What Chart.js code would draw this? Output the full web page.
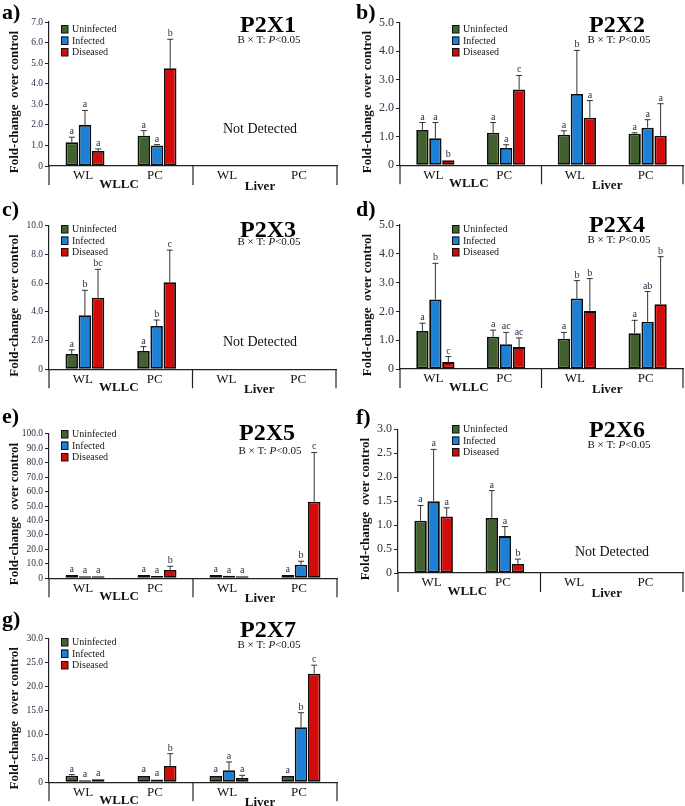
<!DOCTYPE html>
<html><head><meta charset="utf-8">
<script src="https://cdn.jsdelivr.net/npm/chart.js@4.4.1/dist/chart.umd.min.js"></script>
<style>
html,body{margin:0;padding:0;background:#fff;}
#wrap{position:relative;width:685px;height:806px;overflow:hidden;background:#fff;}
#wrap canvas{position:absolute;left:0;top:0;}
</style></head><body><div id="wrap"></div>
<script>
// ---------- DATA ----------
const groupLabels = ['WL', 'PC', 'WL', 'PC'];
const tissueLabels = ['WLLC', 'Liver'];
const seriesNames = ['Uninfected', 'Infected', 'Diseased'];
const panelLetters = ['a)', 'b)', 'c)', 'd)', 'e)', 'f)', 'g)'];
const geneNames = ['P2X1', 'P2X2', 'P2X3', 'P2X4', 'P2X5', 'P2X6', 'P2X7'];
const yMaxes = [7, 5, 10, 5, 100, 3, 30];
const yStepSizes = [1, 1, 2, 1, 10, 0.5, 5];
const liverDetected = [false, true, false, true, true, false, true];
const notDetectedText = 'Not Detected';

// means [Uninfected, Infected, Diseased] per group (WLLC WL, WLLC PC, Liver WL, Liver PC)
const p2x1Mean = [[1.15, 1.47, null, null], [2.0, 1.0, null, null], [0.73, 4.75, null, null]];
const p2x1ErrHi = [[1.4, 1.72, null, null], [2.7, 1.04, null, null], [0.83, 6.16, null, null]];
const p2x1Sig = [['a', 'a'], ['a', 'a'], ['a', 'b']];

const p2x2Mean = [[1.24, 1.14, 1.07, 1.11], [0.95, 0.61, 2.5, 1.32], [0.18, 2.66, 1.67, 1.04]];
const p2x2ErrHi = [[1.5, 1.5, 1.21, 1.14], [1.5, 0.72, 4.03, 1.6], [0.18, 3.15, 2.27, 2.16]];
const p2x2Sig = [['a', 'a', 'a', 'a'], ['a', 'a', 'b', 'a'], ['b', 'c', 'a', 'a']];

const p2x3Mean = [[1.07, 1.28, null, null], [3.76, 3.02, null, null], [4.99, 6.06, null, null]];
const p2x3ErrHi = [[1.35, 1.58, null, null], [5.5, 3.43, null, null], [6.96, 8.3, null, null]];
const p2x3Sig = [['a', 'a'], ['b', 'b'], ['bc', 'c']];

const p2x4Mean = [[1.32, 1.12, 1.05, 1.24], [2.41, 0.86, 2.45, 1.64], [0.24, 0.76, 2.01, 2.25]];
const p2x4ErrHi = [[1.59, 1.35, 1.27, 1.69], [3.67, 1.27, 3.07, 2.69], [0.43, 1.08, 3.14, 3.9]];
const p2x4Sig = [['a', 'a', 'a', 'a'], ['b', 'ac', 'b', 'ab'], ['c', 'ac', 'b', 'b']];

const p2x5Mean = [[2.3, 2.3, 2.3, 2.3], [1.4, 1.6, 1.8, 9.4], [1.4, 5.8, 1.4, 53]];
const p2x5ErrHi = [[2.3, 2.3, 2.3, 2.3], [1.4, 1.6, 1.8, 11.8], [1.4, 8.3, 1.4, 87]];
const p2x5Sig = [['a', 'a', 'a', 'a'], ['a', 'a', 'a', 'b'], ['a', 'b', 'a', 'c']];

const p2x6Mean = [[1.09, 1.15, null, null], [1.5, 0.77, null, null], [1.18, 0.19, null, null]];
const p2x6ErrHi = [[1.41, 1.72, null, null], [2.58, 0.97, null, null], [1.36, 0.29, null, null]];
const p2x6Sig = [['a', 'a'], ['a', 'a'], ['a', 'b']];

const p2x7Mean = [[1.39, 1.32, 1.32, 1.32], [0.42, 0.56, 2.5, 11.46], [0.63, 3.4, 0.9, 22.64]];
const p2x7ErrHi = [[1.6, 1.45, 1.46, 1.4], [0.42, 0.7, 4.24, 14.5], [0.76, 5.97, 1.46, 24.4]];
const p2x7Sig = [['a', 'a', 'a', 'a'], ['a', 'a', 'a', 'b'], ['a', 'b', 'a', 'c']];

const allMeans = [p2x1Mean, p2x2Mean, p2x3Mean, p2x4Mean, p2x5Mean, p2x6Mean, p2x7Mean];
const allErrHi = [p2x1ErrHi, p2x2ErrHi, p2x3ErrHi, p2x4ErrHi, p2x5ErrHi, p2x6ErrHi, p2x7ErrHi];
const allSig = [p2x1Sig, p2x2Sig, p2x3Sig, p2x4Sig, p2x5Sig, p2x6Sig, p2x7Sig];

// ---------- LAYOUT / STYLE ----------
const SERIF = "'Liberation Serif','DejaVu Serif',serif";
const seriesColors = ['#41622f', '#1b80d6', '#d20b0b'];
const W = 685, H = 806;
const layouts = [
  {ca: {l: 49, t: 22, r: 337, b: 166}, tick: 9.5, letter: [2, 19], title: [268, 32], sub: [269, 43], legend: [61, 29], yTitleX: 15, nd: [260, 129]},
  {ca: {l: 400, t: 22.7, r: 683, b: 165.3}, tick: 12, letter: [356, 19], title: [617, 32], sub: [619, 43], legend: [452, 29], yTitleX: 368, nd: null},
  {ca: {l: 49, t: 225.7, r: 336, b: 369.3}, tick: 9.5, letter: [2, 216], title: [268, 237], sub: [269, 245], legend: [61, 229], yTitleX: 15, nd: [260, 342]},
  {ca: {l: 400, t: 225, r: 683, b: 369}, tick: 12, letter: [356, 216], title: [617, 232], sub: [619, 243], legend: [452, 229], yTitleX: 368, nd: null},
  {ca: {l: 49, t: 433.7, r: 337, b: 578.3}, tick: 9.5, letter: [2, 423], title: [267, 440], sub: [270, 454], legend: [61, 434], yTitleX: 15, nd: null},
  {ca: {l: 398, t: 429.3, r: 683, b: 573}, tick: 12, letter: [356, 424], title: [617, 437], sub: [619, 448], legend: [452, 429], yTitleX: 366, nd: [612, 552]},
  {ca: {l: 49, t: 638.3, r: 337, b: 782.3}, tick: 9.5, letter: [2, 626], title: [268, 637], sub: [269, 648], legend: [61, 642], yTitleX: 15, nd: null}
];

const AXW = 30, AXH = 24;
const wrap = document.getElementById('wrap');

function drawSub(ctx, cx, y) {
  const parts = [
    {t: 'B \u00d7 T: ', f: `11px ${SERIF}`},
    {t: 'P', f: `italic 11px ${SERIF}`},
    {t: '<0.05', f: `11px ${SERIF}`}
  ];
  let total = 0;
  parts.forEach(p => { ctx.font = p.f; p.w = ctx.measureText(p.t).width; total += p.w; });
  let x = cx - total / 2;
  ctx.textAlign = 'left'; ctx.textBaseline = 'alphabetic'; ctx.fillStyle = '#111';
  parts.forEach(p => { ctx.font = p.f; ctx.fillText(p.t, x, y); x += p.w; });
}

function makeDecor(i) {
  return {
    id: 'decor' + i,
    afterDraw(chart) {
      const ctx = chart.ctx;
      const L = layouts[i];
      const ca = chart.chartArea;
      const y = chart.scales.y, x = chart.scales.x;
      ctx.save();
      // axis extensions below the zero line
      ctx.strokeStyle = '#222'; ctx.lineWidth = 1.2;
      const ext = 19;
      const mid = (ca.left + ca.right) / 2;
      [ca.left, mid, ca.right].forEach(px => {
        ctx.beginPath(); ctx.moveTo(px, ca.bottom); ctx.lineTo(px, ca.bottom + ext); ctx.stroke();
      });
      // error bars + significance letters
      for (let k = 0; k < 3; k++) {
        const meta = chart.getDatasetMeta(k);
        meta.data.forEach((bar, j) => {
          const m = allMeans[i][k][j];
          if (m == null) return;
          const hi = allErrHi[i][k][j];
          const yBar = y.getPixelForValue(m);
          const yTop = y.getPixelForValue(hi);
          ctx.strokeStyle = '#333'; ctx.lineWidth = 1;
          if (yBar - yTop > 0.8) {
            ctx.beginPath(); ctx.moveTo(bar.x, yBar); ctx.lineTo(bar.x, yTop); ctx.stroke();
            ctx.beginPath(); ctx.moveTo(bar.x - 3, yTop); ctx.lineTo(bar.x + 3, yTop); ctx.stroke();
          }
          const s = allSig[i][k][j];
          if (s) {
            ctx.font = `10px ${SERIF}`; ctx.fillStyle = '#2a3149';
            ctx.textAlign = 'center'; ctx.textBaseline = 'alphabetic';
            ctx.fillText(s, bar.x, Math.min(yTop, yBar) - 3);
          }
        });
      }
      // tissue labels
      ctx.fillStyle = '#111'; ctx.font = `bold 13px ${SERIF}`; ctx.textAlign = 'center'; ctx.textBaseline = 'alphabetic';
      const c0 = x.getPixelForValue(0), c1 = x.getPixelForValue(1), c2 = x.getPixelForValue(2), c3 = x.getPixelForValue(3);
      ctx.fillText(tissueLabels[0], (c0 + c1) / 2 - 2, ca.bottom + 22);
      ctx.fillText(tissueLabels[1], (c2 + c3) / 2 - 5, ca.bottom + 24);
      // y title
      ctx.save();
      ctx.translate(L.yTitleX, (ca.top + ca.bottom) / 2 + 8);
      ctx.rotate(-Math.PI / 2);
      ctx.font = `bold 13px ${SERIF}`; ctx.textAlign = 'center'; ctx.textBaseline = 'middle'; ctx.fillStyle = '#111';
      ctx.fillText('Fold-change  over control', 0, 0);
      ctx.restore();
      // panel letter
      ctx.font = `bold 22px ${SERIF}`; ctx.textAlign = 'left'; ctx.textBaseline = 'alphabetic'; ctx.fillStyle = '#000';
      ctx.fillText(panelLetters[i], L.letter[0], L.letter[1]);
      // title
      ctx.font = `bold 24px ${SERIF}`; ctx.textAlign = 'center';
      ctx.fillText(geneNames[i], L.title[0], L.title[1]);
      drawSub(ctx, L.sub[0], L.sub[1]);
      // legend
      seriesNames.forEach((n, k) => {
        const cy = L.legend[1] + k * 11.5;
        ctx.fillStyle = seriesColors[k];
        ctx.fillRect(L.legend[0], cy - 4, 7, 8);
        ctx.strokeStyle = '#111'; ctx.lineWidth = 1;
        ctx.strokeRect(L.legend[0] + 0.5, cy - 3.5, 6.5, 7.5);
        ctx.fillStyle = '#1a1a1a'; ctx.font = `10px ${SERIF}`; ctx.textAlign = 'left'; ctx.textBaseline = 'middle';
        ctx.fillText(n, L.legend[0] + 11, cy + 0.5);
      });
      // not detected
      if (!liverDetected[i] && L.nd) {
        ctx.font = `14px ${SERIF}`; ctx.fillStyle = '#111'; ctx.textAlign = 'center'; ctx.textBaseline = 'middle';
        ctx.fillText(notDetectedText, L.nd[0], L.nd[1]);
      }
      ctx.restore();
    }
  };
}

function makeChart(i) {
  const L = layouts[i];
  const canvas = document.createElement('canvas');
  canvas.width = W; canvas.height = H;
  canvas.style.width = W + 'px'; canvas.style.height = H + 'px';
  wrap.appendChild(canvas);
  new Chart(canvas, {
    type: 'bar',
    data: {
      labels: groupLabels,
      datasets: seriesNames.map((n, k) => ({
        label: n,
        data: allMeans[i][k],
        backgroundColor: seriesColors[k],
        borderColor: '#0d0d0d',
        borderWidth: 1.8,
        borderSkipped: false,
        categoryPercentage: 0.55,
        barPercentage: 0.95
      }))
    },
    options: {
      responsive: false,
      animation: false,
      events: [],
      devicePixelRatio: 1,
      layout: {padding: {left: L.ca.l - AXW, top: L.ca.t, right: W - L.ca.r, bottom: H - L.ca.b - AXH}},
      plugins: {legend: {display: false}, tooltip: {enabled: false}, title: {display: false}},
      scales: {
        x: {
          grid: {display: false, drawTicks: false},
          border: {display: true, color: '#222', width: 1.2},
          ticks: {font: {family: SERIF, size: 13}, color: '#111', padding: 2, labelOffset: -2, maxRotation: 0, autoSkip: false},
          afterFit(s) { s.height = AXH; }
        },
        y: {
          min: 0, max: yMaxes[i],
          ticks: {stepSize: yStepSizes[i], autoSkip: false, font: {family: SERIF, size: L.tick}, color: '#2a3149', padding: 2,
                  callback: v => v === 0 ? '0' : Number(v).toFixed(1)},
          grid: {drawOnChartArea: false, drawTicks: true, tickLength: 4, color: '#222', lineWidth: 1},
          border: {display: true, color: '#222', width: 1.2},
          afterFit(s) { s.width = AXW; }
        }
      }
    },
    plugins: [makeDecor(i)]
  });
}

for (let i = 0; i < 7; i++) makeChart(i);
</script>
</body></html>
